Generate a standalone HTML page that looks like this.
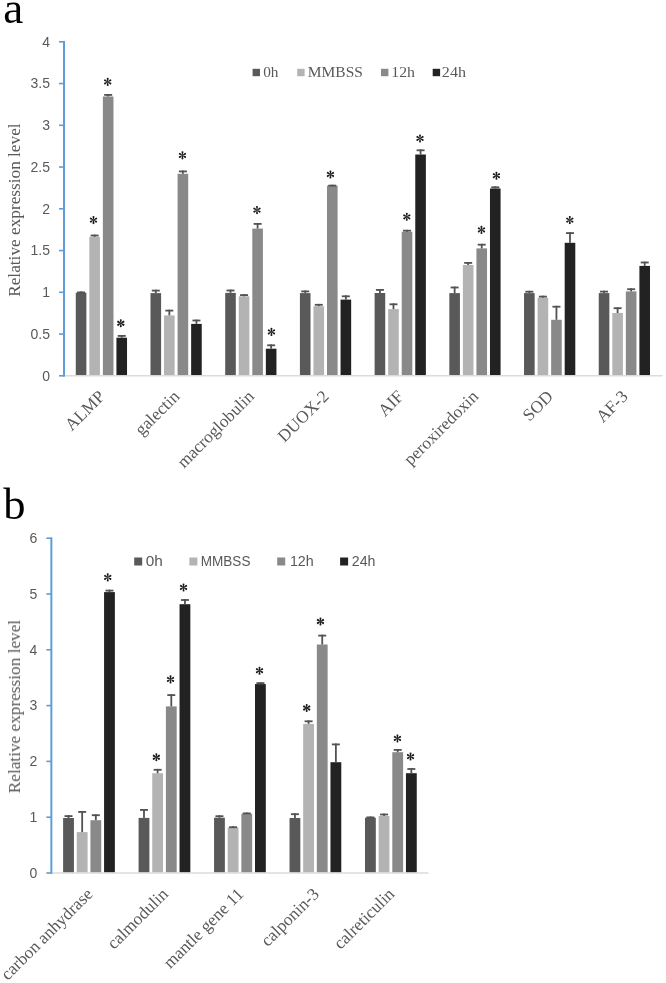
<!DOCTYPE html>
<html><head><meta charset="utf-8"><title>Relative expression level</title>
<style>
html,body{margin:0;padding:0;background:#fff;}
body{width:666px;height:983px;overflow:hidden;font-family:"Liberation Serif", serif;}
svg{display:block;filter:blur(0.35px);}
</style></head>
<body>
<svg width="666" height="983" viewBox="0 0 666 983">
<rect x="0" y="0" width="666" height="983" fill="#fff"/>
<rect x="75.78" y="292.80" width="10.60" height="82.50" fill="#595959"/>
<rect x="80.18" y="291.50" width="1.80" height="1.30" fill="#525252"/>
<rect x="77.08" y="291.50" width="8.00" height="1.80" fill="#525252"/>
<rect x="89.33" y="236.80" width="10.60" height="138.50" fill="#b3b3b3"/>
<rect x="93.73" y="234.60" width="1.80" height="2.20" fill="#525252"/>
<rect x="90.63" y="234.60" width="8.00" height="1.80" fill="#525252"/>
<rect x="102.88" y="96.50" width="10.60" height="278.80" fill="#898989"/>
<rect x="107.28" y="94.00" width="1.80" height="2.50" fill="#525252"/>
<rect x="104.18" y="94.00" width="8.00" height="1.80" fill="#525252"/>
<rect x="116.43" y="337.70" width="10.60" height="37.60" fill="#222222"/>
<rect x="120.83" y="335.00" width="1.80" height="2.70" fill="#525252"/>
<rect x="117.73" y="335.00" width="8.00" height="1.80" fill="#525252"/>
<g transform="translate(93.48,220.07)" fill="#1a1a1a"><path d="M-0.22,0 L-0.88,-2.75 A0.95,0.95 0 1,1 0.88,-2.75 L0.22,0 Z" transform="rotate(0)"/><path d="M-0.22,0 L-0.88,-2.75 A0.95,0.95 0 1,1 0.88,-2.75 L0.22,0 Z" transform="rotate(60)"/><path d="M-0.22,0 L-0.88,-2.75 A0.95,0.95 0 1,1 0.88,-2.75 L0.22,0 Z" transform="rotate(120)"/><path d="M-0.22,0 L-0.88,-2.75 A0.95,0.95 0 1,1 0.88,-2.75 L0.22,0 Z" transform="rotate(180)"/><path d="M-0.22,0 L-0.88,-2.75 A0.95,0.95 0 1,1 0.88,-2.75 L0.22,0 Z" transform="rotate(240)"/><path d="M-0.22,0 L-0.88,-2.75 A0.95,0.95 0 1,1 0.88,-2.75 L0.22,0 Z" transform="rotate(300)"/></g>
<g transform="translate(107.70,81.90)" fill="#1a1a1a"><path d="M-0.22,0 L-0.88,-2.75 A0.95,0.95 0 1,1 0.88,-2.75 L0.22,0 Z" transform="rotate(0)"/><path d="M-0.22,0 L-0.88,-2.75 A0.95,0.95 0 1,1 0.88,-2.75 L0.22,0 Z" transform="rotate(60)"/><path d="M-0.22,0 L-0.88,-2.75 A0.95,0.95 0 1,1 0.88,-2.75 L0.22,0 Z" transform="rotate(120)"/><path d="M-0.22,0 L-0.88,-2.75 A0.95,0.95 0 1,1 0.88,-2.75 L0.22,0 Z" transform="rotate(180)"/><path d="M-0.22,0 L-0.88,-2.75 A0.95,0.95 0 1,1 0.88,-2.75 L0.22,0 Z" transform="rotate(240)"/><path d="M-0.22,0 L-0.88,-2.75 A0.95,0.95 0 1,1 0.88,-2.75 L0.22,0 Z" transform="rotate(300)"/></g>
<g transform="translate(120.80,323.25)" fill="#1a1a1a"><path d="M-0.22,0 L-0.88,-2.75 A0.95,0.95 0 1,1 0.88,-2.75 L0.22,0 Z" transform="rotate(0)"/><path d="M-0.22,0 L-0.88,-2.75 A0.95,0.95 0 1,1 0.88,-2.75 L0.22,0 Z" transform="rotate(60)"/><path d="M-0.22,0 L-0.88,-2.75 A0.95,0.95 0 1,1 0.88,-2.75 L0.22,0 Z" transform="rotate(120)"/><path d="M-0.22,0 L-0.88,-2.75 A0.95,0.95 0 1,1 0.88,-2.75 L0.22,0 Z" transform="rotate(180)"/><path d="M-0.22,0 L-0.88,-2.75 A0.95,0.95 0 1,1 0.88,-2.75 L0.22,0 Z" transform="rotate(240)"/><path d="M-0.22,0 L-0.88,-2.75 A0.95,0.95 0 1,1 0.88,-2.75 L0.22,0 Z" transform="rotate(300)"/></g>
<rect x="150.49" y="293.10" width="10.60" height="82.20" fill="#595959"/>
<rect x="154.89" y="289.70" width="1.80" height="3.40" fill="#525252"/>
<rect x="151.79" y="289.70" width="8.00" height="1.80" fill="#525252"/>
<rect x="164.04" y="315.40" width="10.60" height="59.90" fill="#b3b3b3"/>
<rect x="168.44" y="309.70" width="1.80" height="5.70" fill="#525252"/>
<rect x="165.34" y="309.70" width="8.00" height="1.80" fill="#525252"/>
<rect x="177.59" y="173.80" width="10.60" height="201.50" fill="#898989"/>
<rect x="181.99" y="170.50" width="1.80" height="3.30" fill="#525252"/>
<rect x="178.89" y="170.50" width="8.00" height="1.80" fill="#525252"/>
<rect x="191.14" y="323.90" width="10.60" height="51.40" fill="#222222"/>
<rect x="195.54" y="319.60" width="1.80" height="4.30" fill="#525252"/>
<rect x="192.44" y="319.60" width="8.00" height="1.80" fill="#525252"/>
<g transform="translate(182.46,155.35)" fill="#1a1a1a"><path d="M-0.22,0 L-0.88,-2.75 A0.95,0.95 0 1,1 0.88,-2.75 L0.22,0 Z" transform="rotate(0)"/><path d="M-0.22,0 L-0.88,-2.75 A0.95,0.95 0 1,1 0.88,-2.75 L0.22,0 Z" transform="rotate(60)"/><path d="M-0.22,0 L-0.88,-2.75 A0.95,0.95 0 1,1 0.88,-2.75 L0.22,0 Z" transform="rotate(120)"/><path d="M-0.22,0 L-0.88,-2.75 A0.95,0.95 0 1,1 0.88,-2.75 L0.22,0 Z" transform="rotate(180)"/><path d="M-0.22,0 L-0.88,-2.75 A0.95,0.95 0 1,1 0.88,-2.75 L0.22,0 Z" transform="rotate(240)"/><path d="M-0.22,0 L-0.88,-2.75 A0.95,0.95 0 1,1 0.88,-2.75 L0.22,0 Z" transform="rotate(300)"/></g>
<rect x="225.20" y="292.90" width="10.60" height="82.40" fill="#595959"/>
<rect x="229.60" y="289.60" width="1.80" height="3.30" fill="#525252"/>
<rect x="226.50" y="289.60" width="8.00" height="1.80" fill="#525252"/>
<rect x="238.75" y="296.30" width="10.60" height="79.00" fill="#b3b3b3"/>
<rect x="243.15" y="294.20" width="1.80" height="2.10" fill="#525252"/>
<rect x="240.05" y="294.20" width="8.00" height="1.80" fill="#525252"/>
<rect x="252.30" y="228.60" width="10.60" height="146.70" fill="#898989"/>
<rect x="256.70" y="223.00" width="1.80" height="5.60" fill="#525252"/>
<rect x="253.60" y="223.00" width="8.00" height="1.80" fill="#525252"/>
<rect x="265.85" y="348.70" width="10.60" height="26.60" fill="#222222"/>
<rect x="270.25" y="344.40" width="1.80" height="4.30" fill="#525252"/>
<rect x="267.15" y="344.40" width="8.00" height="1.80" fill="#525252"/>
<g transform="translate(257.00,210.07)" fill="#1a1a1a"><path d="M-0.22,0 L-0.88,-2.75 A0.95,0.95 0 1,1 0.88,-2.75 L0.22,0 Z" transform="rotate(0)"/><path d="M-0.22,0 L-0.88,-2.75 A0.95,0.95 0 1,1 0.88,-2.75 L0.22,0 Z" transform="rotate(60)"/><path d="M-0.22,0 L-0.88,-2.75 A0.95,0.95 0 1,1 0.88,-2.75 L0.22,0 Z" transform="rotate(120)"/><path d="M-0.22,0 L-0.88,-2.75 A0.95,0.95 0 1,1 0.88,-2.75 L0.22,0 Z" transform="rotate(180)"/><path d="M-0.22,0 L-0.88,-2.75 A0.95,0.95 0 1,1 0.88,-2.75 L0.22,0 Z" transform="rotate(240)"/><path d="M-0.22,0 L-0.88,-2.75 A0.95,0.95 0 1,1 0.88,-2.75 L0.22,0 Z" transform="rotate(300)"/></g>
<g transform="translate(271.43,331.90)" fill="#1a1a1a"><path d="M-0.22,0 L-0.88,-2.75 A0.95,0.95 0 1,1 0.88,-2.75 L0.22,0 Z" transform="rotate(0)"/><path d="M-0.22,0 L-0.88,-2.75 A0.95,0.95 0 1,1 0.88,-2.75 L0.22,0 Z" transform="rotate(60)"/><path d="M-0.22,0 L-0.88,-2.75 A0.95,0.95 0 1,1 0.88,-2.75 L0.22,0 Z" transform="rotate(120)"/><path d="M-0.22,0 L-0.88,-2.75 A0.95,0.95 0 1,1 0.88,-2.75 L0.22,0 Z" transform="rotate(180)"/><path d="M-0.22,0 L-0.88,-2.75 A0.95,0.95 0 1,1 0.88,-2.75 L0.22,0 Z" transform="rotate(240)"/><path d="M-0.22,0 L-0.88,-2.75 A0.95,0.95 0 1,1 0.88,-2.75 L0.22,0 Z" transform="rotate(300)"/></g>
<rect x="299.91" y="293.10" width="10.60" height="82.20" fill="#595959"/>
<rect x="304.31" y="290.50" width="1.80" height="2.60" fill="#525252"/>
<rect x="301.21" y="290.50" width="8.00" height="1.80" fill="#525252"/>
<rect x="313.46" y="306.20" width="10.60" height="69.10" fill="#b3b3b3"/>
<rect x="317.86" y="303.90" width="1.80" height="2.30" fill="#525252"/>
<rect x="314.76" y="303.90" width="8.00" height="1.80" fill="#525252"/>
<rect x="327.01" y="185.70" width="10.60" height="189.60" fill="#898989"/>
<rect x="331.41" y="184.70" width="1.80" height="1.00" fill="#525252"/>
<rect x="328.31" y="184.70" width="8.00" height="1.80" fill="#525252"/>
<rect x="340.56" y="299.60" width="10.60" height="75.70" fill="#222222"/>
<rect x="344.96" y="295.40" width="1.80" height="4.20" fill="#525252"/>
<rect x="341.86" y="295.40" width="8.00" height="1.80" fill="#525252"/>
<g transform="translate(330.45,174.46)" fill="#1a1a1a"><path d="M-0.22,0 L-0.88,-2.75 A0.95,0.95 0 1,1 0.88,-2.75 L0.22,0 Z" transform="rotate(0)"/><path d="M-0.22,0 L-0.88,-2.75 A0.95,0.95 0 1,1 0.88,-2.75 L0.22,0 Z" transform="rotate(60)"/><path d="M-0.22,0 L-0.88,-2.75 A0.95,0.95 0 1,1 0.88,-2.75 L0.22,0 Z" transform="rotate(120)"/><path d="M-0.22,0 L-0.88,-2.75 A0.95,0.95 0 1,1 0.88,-2.75 L0.22,0 Z" transform="rotate(180)"/><path d="M-0.22,0 L-0.88,-2.75 A0.95,0.95 0 1,1 0.88,-2.75 L0.22,0 Z" transform="rotate(240)"/><path d="M-0.22,0 L-0.88,-2.75 A0.95,0.95 0 1,1 0.88,-2.75 L0.22,0 Z" transform="rotate(300)"/></g>
<rect x="374.62" y="293.00" width="10.60" height="82.30" fill="#595959"/>
<rect x="379.02" y="289.00" width="1.80" height="4.00" fill="#525252"/>
<rect x="375.92" y="289.00" width="8.00" height="1.80" fill="#525252"/>
<rect x="388.17" y="309.10" width="10.60" height="66.20" fill="#b3b3b3"/>
<rect x="392.57" y="303.40" width="1.80" height="5.70" fill="#525252"/>
<rect x="389.47" y="303.40" width="8.00" height="1.80" fill="#525252"/>
<rect x="401.72" y="231.80" width="10.60" height="143.50" fill="#898989"/>
<rect x="406.12" y="229.80" width="1.80" height="2.00" fill="#525252"/>
<rect x="403.02" y="229.80" width="8.00" height="1.80" fill="#525252"/>
<rect x="415.27" y="154.50" width="10.60" height="220.80" fill="#222222"/>
<rect x="419.67" y="149.40" width="1.80" height="5.10" fill="#525252"/>
<rect x="416.57" y="149.40" width="8.00" height="1.80" fill="#525252"/>
<g transform="translate(406.80,216.80)" fill="#1a1a1a"><path d="M-0.22,0 L-0.88,-2.75 A0.95,0.95 0 1,1 0.88,-2.75 L0.22,0 Z" transform="rotate(0)"/><path d="M-0.22,0 L-0.88,-2.75 A0.95,0.95 0 1,1 0.88,-2.75 L0.22,0 Z" transform="rotate(60)"/><path d="M-0.22,0 L-0.88,-2.75 A0.95,0.95 0 1,1 0.88,-2.75 L0.22,0 Z" transform="rotate(120)"/><path d="M-0.22,0 L-0.88,-2.75 A0.95,0.95 0 1,1 0.88,-2.75 L0.22,0 Z" transform="rotate(180)"/><path d="M-0.22,0 L-0.88,-2.75 A0.95,0.95 0 1,1 0.88,-2.75 L0.22,0 Z" transform="rotate(240)"/><path d="M-0.22,0 L-0.88,-2.75 A0.95,0.95 0 1,1 0.88,-2.75 L0.22,0 Z" transform="rotate(300)"/></g>
<g transform="translate(420.00,138.45)" fill="#1a1a1a"><path d="M-0.22,0 L-0.88,-2.75 A0.95,0.95 0 1,1 0.88,-2.75 L0.22,0 Z" transform="rotate(0)"/><path d="M-0.22,0 L-0.88,-2.75 A0.95,0.95 0 1,1 0.88,-2.75 L0.22,0 Z" transform="rotate(60)"/><path d="M-0.22,0 L-0.88,-2.75 A0.95,0.95 0 1,1 0.88,-2.75 L0.22,0 Z" transform="rotate(120)"/><path d="M-0.22,0 L-0.88,-2.75 A0.95,0.95 0 1,1 0.88,-2.75 L0.22,0 Z" transform="rotate(180)"/><path d="M-0.22,0 L-0.88,-2.75 A0.95,0.95 0 1,1 0.88,-2.75 L0.22,0 Z" transform="rotate(240)"/><path d="M-0.22,0 L-0.88,-2.75 A0.95,0.95 0 1,1 0.88,-2.75 L0.22,0 Z" transform="rotate(300)"/></g>
<rect x="449.33" y="293.10" width="10.60" height="82.20" fill="#595959"/>
<rect x="453.73" y="286.60" width="1.80" height="6.50" fill="#525252"/>
<rect x="450.63" y="286.60" width="8.00" height="1.80" fill="#525252"/>
<rect x="462.88" y="265.00" width="10.60" height="110.30" fill="#b3b3b3"/>
<rect x="467.28" y="262.00" width="1.80" height="3.00" fill="#525252"/>
<rect x="464.18" y="262.00" width="8.00" height="1.80" fill="#525252"/>
<rect x="476.43" y="248.40" width="10.60" height="126.90" fill="#898989"/>
<rect x="480.83" y="243.80" width="1.80" height="4.60" fill="#525252"/>
<rect x="477.73" y="243.80" width="8.00" height="1.80" fill="#525252"/>
<rect x="489.98" y="188.50" width="10.60" height="186.80" fill="#222222"/>
<rect x="494.38" y="186.40" width="1.80" height="2.10" fill="#525252"/>
<rect x="491.28" y="186.40" width="8.00" height="1.80" fill="#525252"/>
<g transform="translate(481.46,229.90)" fill="#1a1a1a"><path d="M-0.22,0 L-0.88,-2.75 A0.95,0.95 0 1,1 0.88,-2.75 L0.22,0 Z" transform="rotate(0)"/><path d="M-0.22,0 L-0.88,-2.75 A0.95,0.95 0 1,1 0.88,-2.75 L0.22,0 Z" transform="rotate(60)"/><path d="M-0.22,0 L-0.88,-2.75 A0.95,0.95 0 1,1 0.88,-2.75 L0.22,0 Z" transform="rotate(120)"/><path d="M-0.22,0 L-0.88,-2.75 A0.95,0.95 0 1,1 0.88,-2.75 L0.22,0 Z" transform="rotate(180)"/><path d="M-0.22,0 L-0.88,-2.75 A0.95,0.95 0 1,1 0.88,-2.75 L0.22,0 Z" transform="rotate(240)"/><path d="M-0.22,0 L-0.88,-2.75 A0.95,0.95 0 1,1 0.88,-2.75 L0.22,0 Z" transform="rotate(300)"/></g>
<g transform="translate(496.43,175.70)" fill="#1a1a1a"><path d="M-0.22,0 L-0.88,-2.75 A0.95,0.95 0 1,1 0.88,-2.75 L0.22,0 Z" transform="rotate(0)"/><path d="M-0.22,0 L-0.88,-2.75 A0.95,0.95 0 1,1 0.88,-2.75 L0.22,0 Z" transform="rotate(60)"/><path d="M-0.22,0 L-0.88,-2.75 A0.95,0.95 0 1,1 0.88,-2.75 L0.22,0 Z" transform="rotate(120)"/><path d="M-0.22,0 L-0.88,-2.75 A0.95,0.95 0 1,1 0.88,-2.75 L0.22,0 Z" transform="rotate(180)"/><path d="M-0.22,0 L-0.88,-2.75 A0.95,0.95 0 1,1 0.88,-2.75 L0.22,0 Z" transform="rotate(240)"/><path d="M-0.22,0 L-0.88,-2.75 A0.95,0.95 0 1,1 0.88,-2.75 L0.22,0 Z" transform="rotate(300)"/></g>
<rect x="524.04" y="293.10" width="10.60" height="82.20" fill="#595959"/>
<rect x="528.44" y="290.80" width="1.80" height="2.30" fill="#525252"/>
<rect x="525.34" y="290.80" width="8.00" height="1.80" fill="#525252"/>
<rect x="537.59" y="297.70" width="10.60" height="77.60" fill="#b3b3b3"/>
<rect x="541.99" y="295.70" width="1.80" height="2.00" fill="#525252"/>
<rect x="538.89" y="295.70" width="8.00" height="1.80" fill="#525252"/>
<rect x="551.14" y="319.80" width="10.60" height="55.50" fill="#898989"/>
<rect x="555.54" y="305.80" width="1.80" height="14.00" fill="#525252"/>
<rect x="552.44" y="305.80" width="8.00" height="1.80" fill="#525252"/>
<rect x="564.69" y="242.80" width="10.60" height="132.50" fill="#222222"/>
<rect x="569.09" y="232.20" width="1.80" height="10.60" fill="#525252"/>
<rect x="565.99" y="232.20" width="8.00" height="1.80" fill="#525252"/>
<g transform="translate(569.80,220.07)" fill="#1a1a1a"><path d="M-0.22,0 L-0.88,-2.75 A0.95,0.95 0 1,1 0.88,-2.75 L0.22,0 Z" transform="rotate(0)"/><path d="M-0.22,0 L-0.88,-2.75 A0.95,0.95 0 1,1 0.88,-2.75 L0.22,0 Z" transform="rotate(60)"/><path d="M-0.22,0 L-0.88,-2.75 A0.95,0.95 0 1,1 0.88,-2.75 L0.22,0 Z" transform="rotate(120)"/><path d="M-0.22,0 L-0.88,-2.75 A0.95,0.95 0 1,1 0.88,-2.75 L0.22,0 Z" transform="rotate(180)"/><path d="M-0.22,0 L-0.88,-2.75 A0.95,0.95 0 1,1 0.88,-2.75 L0.22,0 Z" transform="rotate(240)"/><path d="M-0.22,0 L-0.88,-2.75 A0.95,0.95 0 1,1 0.88,-2.75 L0.22,0 Z" transform="rotate(300)"/></g>
<rect x="598.75" y="293.10" width="10.60" height="82.20" fill="#595959"/>
<rect x="603.15" y="290.70" width="1.80" height="2.40" fill="#525252"/>
<rect x="600.05" y="290.70" width="8.00" height="1.80" fill="#525252"/>
<rect x="612.30" y="313.00" width="10.60" height="62.30" fill="#b3b3b3"/>
<rect x="616.70" y="307.30" width="1.80" height="5.70" fill="#525252"/>
<rect x="613.60" y="307.30" width="8.00" height="1.80" fill="#525252"/>
<rect x="625.85" y="291.40" width="10.60" height="83.90" fill="#898989"/>
<rect x="630.25" y="288.30" width="1.80" height="3.10" fill="#525252"/>
<rect x="627.15" y="288.30" width="8.00" height="1.80" fill="#525252"/>
<rect x="639.40" y="265.90" width="10.60" height="109.40" fill="#222222"/>
<rect x="643.80" y="261.60" width="1.80" height="4.30" fill="#525252"/>
<rect x="640.70" y="261.60" width="8.00" height="1.80" fill="#525252"/>
<rect x="64.00" y="375.10" width="598.50" height="1.40" fill="#d9d9d9"/>
<rect x="63.00" y="40.90" width="2.00" height="335.70" fill="#5f9dd6"/>
<rect x="59.00" y="375.00" width="5.00" height="1.60" fill="#5f9dd6"/>
<rect x="59.00" y="333.25" width="5.00" height="1.60" fill="#5f9dd6"/>
<rect x="59.00" y="291.50" width="5.00" height="1.60" fill="#5f9dd6"/>
<rect x="59.00" y="249.75" width="5.00" height="1.60" fill="#5f9dd6"/>
<rect x="59.00" y="208.00" width="5.00" height="1.60" fill="#5f9dd6"/>
<rect x="59.00" y="166.25" width="5.00" height="1.60" fill="#5f9dd6"/>
<rect x="59.00" y="124.50" width="5.00" height="1.60" fill="#5f9dd6"/>
<rect x="59.00" y="82.75" width="5.00" height="1.60" fill="#5f9dd6"/>
<rect x="59.00" y="41.00" width="5.00" height="1.60" fill="#5f9dd6"/>
<rect x="252.60" y="68.80" width="7.40" height="7.40" fill="#595959"/>
<rect x="297.20" y="68.80" width="7.40" height="7.40" fill="#b3b3b3"/>
<rect x="381.00" y="68.80" width="7.40" height="7.40" fill="#898989"/>
<rect x="432.70" y="68.80" width="7.40" height="7.40" fill="#222222"/>
<rect x="63.12" y="818.00" width="10.80" height="54.50" fill="#595959"/>
<rect x="67.62" y="815.20" width="1.80" height="2.80" fill="#525252"/>
<rect x="64.52" y="815.20" width="8.00" height="1.80" fill="#525252"/>
<rect x="76.77" y="832.10" width="10.80" height="40.40" fill="#b3b3b3"/>
<rect x="81.27" y="811.00" width="1.80" height="21.10" fill="#525252"/>
<rect x="78.17" y="811.00" width="8.00" height="1.80" fill="#525252"/>
<rect x="90.42" y="820.20" width="10.80" height="52.30" fill="#898989"/>
<rect x="94.92" y="814.30" width="1.80" height="5.90" fill="#525252"/>
<rect x="91.82" y="814.30" width="8.00" height="1.80" fill="#525252"/>
<rect x="104.07" y="592.10" width="10.80" height="280.40" fill="#222222"/>
<rect x="108.57" y="589.70" width="1.80" height="2.40" fill="#525252"/>
<rect x="105.47" y="589.70" width="8.00" height="1.80" fill="#525252"/>
<g transform="translate(107.75,577.40)" fill="#1a1a1a"><path d="M-0.22,0 L-0.88,-2.75 A0.95,0.95 0 1,1 0.88,-2.75 L0.22,0 Z" transform="rotate(0)"/><path d="M-0.22,0 L-0.88,-2.75 A0.95,0.95 0 1,1 0.88,-2.75 L0.22,0 Z" transform="rotate(60)"/><path d="M-0.22,0 L-0.88,-2.75 A0.95,0.95 0 1,1 0.88,-2.75 L0.22,0 Z" transform="rotate(120)"/><path d="M-0.22,0 L-0.88,-2.75 A0.95,0.95 0 1,1 0.88,-2.75 L0.22,0 Z" transform="rotate(180)"/><path d="M-0.22,0 L-0.88,-2.75 A0.95,0.95 0 1,1 0.88,-2.75 L0.22,0 Z" transform="rotate(240)"/><path d="M-0.22,0 L-0.88,-2.75 A0.95,0.95 0 1,1 0.88,-2.75 L0.22,0 Z" transform="rotate(300)"/></g>
<rect x="138.59" y="817.90" width="10.80" height="54.60" fill="#595959"/>
<rect x="143.09" y="809.00" width="1.80" height="8.90" fill="#525252"/>
<rect x="139.99" y="809.00" width="8.00" height="1.80" fill="#525252"/>
<rect x="152.24" y="773.20" width="10.80" height="99.30" fill="#b3b3b3"/>
<rect x="156.74" y="768.90" width="1.80" height="4.30" fill="#525252"/>
<rect x="153.64" y="768.90" width="8.00" height="1.80" fill="#525252"/>
<rect x="165.89" y="706.40" width="10.80" height="166.10" fill="#898989"/>
<rect x="170.39" y="694.20" width="1.80" height="12.20" fill="#525252"/>
<rect x="167.29" y="694.20" width="8.00" height="1.80" fill="#525252"/>
<rect x="179.54" y="604.20" width="10.80" height="268.30" fill="#222222"/>
<rect x="184.04" y="599.10" width="1.80" height="5.10" fill="#525252"/>
<rect x="180.94" y="599.10" width="8.00" height="1.80" fill="#525252"/>
<g transform="translate(156.35,757.24)" fill="#1a1a1a"><path d="M-0.22,0 L-0.88,-2.75 A0.95,0.95 0 1,1 0.88,-2.75 L0.22,0 Z" transform="rotate(0)"/><path d="M-0.22,0 L-0.88,-2.75 A0.95,0.95 0 1,1 0.88,-2.75 L0.22,0 Z" transform="rotate(60)"/><path d="M-0.22,0 L-0.88,-2.75 A0.95,0.95 0 1,1 0.88,-2.75 L0.22,0 Z" transform="rotate(120)"/><path d="M-0.22,0 L-0.88,-2.75 A0.95,0.95 0 1,1 0.88,-2.75 L0.22,0 Z" transform="rotate(180)"/><path d="M-0.22,0 L-0.88,-2.75 A0.95,0.95 0 1,1 0.88,-2.75 L0.22,0 Z" transform="rotate(240)"/><path d="M-0.22,0 L-0.88,-2.75 A0.95,0.95 0 1,1 0.88,-2.75 L0.22,0 Z" transform="rotate(300)"/></g>
<g transform="translate(170.53,679.43)" fill="#1a1a1a"><path d="M-0.22,0 L-0.88,-2.75 A0.95,0.95 0 1,1 0.88,-2.75 L0.22,0 Z" transform="rotate(0)"/><path d="M-0.22,0 L-0.88,-2.75 A0.95,0.95 0 1,1 0.88,-2.75 L0.22,0 Z" transform="rotate(60)"/><path d="M-0.22,0 L-0.88,-2.75 A0.95,0.95 0 1,1 0.88,-2.75 L0.22,0 Z" transform="rotate(120)"/><path d="M-0.22,0 L-0.88,-2.75 A0.95,0.95 0 1,1 0.88,-2.75 L0.22,0 Z" transform="rotate(180)"/><path d="M-0.22,0 L-0.88,-2.75 A0.95,0.95 0 1,1 0.88,-2.75 L0.22,0 Z" transform="rotate(240)"/><path d="M-0.22,0 L-0.88,-2.75 A0.95,0.95 0 1,1 0.88,-2.75 L0.22,0 Z" transform="rotate(300)"/></g>
<g transform="translate(183.53,587.46)" fill="#1a1a1a"><path d="M-0.22,0 L-0.88,-2.75 A0.95,0.95 0 1,1 0.88,-2.75 L0.22,0 Z" transform="rotate(0)"/><path d="M-0.22,0 L-0.88,-2.75 A0.95,0.95 0 1,1 0.88,-2.75 L0.22,0 Z" transform="rotate(60)"/><path d="M-0.22,0 L-0.88,-2.75 A0.95,0.95 0 1,1 0.88,-2.75 L0.22,0 Z" transform="rotate(120)"/><path d="M-0.22,0 L-0.88,-2.75 A0.95,0.95 0 1,1 0.88,-2.75 L0.22,0 Z" transform="rotate(180)"/><path d="M-0.22,0 L-0.88,-2.75 A0.95,0.95 0 1,1 0.88,-2.75 L0.22,0 Z" transform="rotate(240)"/><path d="M-0.22,0 L-0.88,-2.75 A0.95,0.95 0 1,1 0.88,-2.75 L0.22,0 Z" transform="rotate(300)"/></g>
<rect x="214.06" y="817.70" width="10.80" height="54.80" fill="#595959"/>
<rect x="218.56" y="815.30" width="1.80" height="2.40" fill="#525252"/>
<rect x="215.46" y="815.30" width="8.00" height="1.80" fill="#525252"/>
<rect x="227.71" y="827.50" width="10.80" height="45.00" fill="#b3b3b3"/>
<rect x="232.21" y="826.30" width="1.80" height="1.20" fill="#525252"/>
<rect x="229.11" y="826.30" width="8.00" height="1.80" fill="#525252"/>
<rect x="241.36" y="813.80" width="10.80" height="58.70" fill="#898989"/>
<rect x="245.86" y="812.50" width="1.80" height="1.30" fill="#525252"/>
<rect x="242.76" y="812.50" width="8.00" height="1.80" fill="#525252"/>
<rect x="255.01" y="684.10" width="10.80" height="188.40" fill="#222222"/>
<rect x="259.51" y="682.20" width="1.80" height="1.90" fill="#525252"/>
<rect x="256.41" y="682.20" width="8.00" height="1.80" fill="#525252"/>
<g transform="translate(259.50,670.70)" fill="#1a1a1a"><path d="M-0.22,0 L-0.88,-2.75 A0.95,0.95 0 1,1 0.88,-2.75 L0.22,0 Z" transform="rotate(0)"/><path d="M-0.22,0 L-0.88,-2.75 A0.95,0.95 0 1,1 0.88,-2.75 L0.22,0 Z" transform="rotate(60)"/><path d="M-0.22,0 L-0.88,-2.75 A0.95,0.95 0 1,1 0.88,-2.75 L0.22,0 Z" transform="rotate(120)"/><path d="M-0.22,0 L-0.88,-2.75 A0.95,0.95 0 1,1 0.88,-2.75 L0.22,0 Z" transform="rotate(180)"/><path d="M-0.22,0 L-0.88,-2.75 A0.95,0.95 0 1,1 0.88,-2.75 L0.22,0 Z" transform="rotate(240)"/><path d="M-0.22,0 L-0.88,-2.75 A0.95,0.95 0 1,1 0.88,-2.75 L0.22,0 Z" transform="rotate(300)"/></g>
<rect x="289.53" y="818.00" width="10.80" height="54.50" fill="#595959"/>
<rect x="294.03" y="813.30" width="1.80" height="4.70" fill="#525252"/>
<rect x="290.93" y="813.30" width="8.00" height="1.80" fill="#525252"/>
<rect x="303.18" y="723.90" width="10.80" height="148.60" fill="#b3b3b3"/>
<rect x="307.68" y="720.40" width="1.80" height="3.50" fill="#525252"/>
<rect x="304.58" y="720.40" width="8.00" height="1.80" fill="#525252"/>
<rect x="316.83" y="644.50" width="10.80" height="228.00" fill="#898989"/>
<rect x="321.33" y="634.70" width="1.80" height="9.80" fill="#525252"/>
<rect x="318.23" y="634.70" width="8.00" height="1.80" fill="#525252"/>
<rect x="330.48" y="762.20" width="10.80" height="110.30" fill="#222222"/>
<rect x="334.98" y="743.50" width="1.80" height="18.70" fill="#525252"/>
<rect x="331.88" y="743.50" width="8.00" height="1.80" fill="#525252"/>
<g transform="translate(306.70,708.00)" fill="#1a1a1a"><path d="M-0.22,0 L-0.88,-2.75 A0.95,0.95 0 1,1 0.88,-2.75 L0.22,0 Z" transform="rotate(0)"/><path d="M-0.22,0 L-0.88,-2.75 A0.95,0.95 0 1,1 0.88,-2.75 L0.22,0 Z" transform="rotate(60)"/><path d="M-0.22,0 L-0.88,-2.75 A0.95,0.95 0 1,1 0.88,-2.75 L0.22,0 Z" transform="rotate(120)"/><path d="M-0.22,0 L-0.88,-2.75 A0.95,0.95 0 1,1 0.88,-2.75 L0.22,0 Z" transform="rotate(180)"/><path d="M-0.22,0 L-0.88,-2.75 A0.95,0.95 0 1,1 0.88,-2.75 L0.22,0 Z" transform="rotate(240)"/><path d="M-0.22,0 L-0.88,-2.75 A0.95,0.95 0 1,1 0.88,-2.75 L0.22,0 Z" transform="rotate(300)"/></g>
<g transform="translate(320.45,621.50)" fill="#1a1a1a"><path d="M-0.22,0 L-0.88,-2.75 A0.95,0.95 0 1,1 0.88,-2.75 L0.22,0 Z" transform="rotate(0)"/><path d="M-0.22,0 L-0.88,-2.75 A0.95,0.95 0 1,1 0.88,-2.75 L0.22,0 Z" transform="rotate(60)"/><path d="M-0.22,0 L-0.88,-2.75 A0.95,0.95 0 1,1 0.88,-2.75 L0.22,0 Z" transform="rotate(120)"/><path d="M-0.22,0 L-0.88,-2.75 A0.95,0.95 0 1,1 0.88,-2.75 L0.22,0 Z" transform="rotate(180)"/><path d="M-0.22,0 L-0.88,-2.75 A0.95,0.95 0 1,1 0.88,-2.75 L0.22,0 Z" transform="rotate(240)"/><path d="M-0.22,0 L-0.88,-2.75 A0.95,0.95 0 1,1 0.88,-2.75 L0.22,0 Z" transform="rotate(300)"/></g>
<rect x="365.00" y="817.70" width="10.80" height="54.80" fill="#595959"/>
<rect x="369.50" y="816.50" width="1.80" height="1.20" fill="#525252"/>
<rect x="366.40" y="816.50" width="8.00" height="1.80" fill="#525252"/>
<rect x="378.65" y="816.00" width="10.80" height="56.50" fill="#b3b3b3"/>
<rect x="383.15" y="813.60" width="1.80" height="2.40" fill="#525252"/>
<rect x="380.05" y="813.60" width="8.00" height="1.80" fill="#525252"/>
<rect x="392.30" y="752.20" width="10.80" height="120.30" fill="#898989"/>
<rect x="396.80" y="749.00" width="1.80" height="3.20" fill="#525252"/>
<rect x="393.70" y="749.00" width="8.00" height="1.80" fill="#525252"/>
<rect x="405.95" y="773.20" width="10.80" height="99.30" fill="#222222"/>
<rect x="410.45" y="768.10" width="1.80" height="5.10" fill="#525252"/>
<rect x="407.35" y="768.10" width="8.00" height="1.80" fill="#525252"/>
<g transform="translate(397.46,738.46)" fill="#1a1a1a"><path d="M-0.22,0 L-0.88,-2.75 A0.95,0.95 0 1,1 0.88,-2.75 L0.22,0 Z" transform="rotate(0)"/><path d="M-0.22,0 L-0.88,-2.75 A0.95,0.95 0 1,1 0.88,-2.75 L0.22,0 Z" transform="rotate(60)"/><path d="M-0.22,0 L-0.88,-2.75 A0.95,0.95 0 1,1 0.88,-2.75 L0.22,0 Z" transform="rotate(120)"/><path d="M-0.22,0 L-0.88,-2.75 A0.95,0.95 0 1,1 0.88,-2.75 L0.22,0 Z" transform="rotate(180)"/><path d="M-0.22,0 L-0.88,-2.75 A0.95,0.95 0 1,1 0.88,-2.75 L0.22,0 Z" transform="rotate(240)"/><path d="M-0.22,0 L-0.88,-2.75 A0.95,0.95 0 1,1 0.88,-2.75 L0.22,0 Z" transform="rotate(300)"/></g>
<g transform="translate(410.53,756.53)" fill="#1a1a1a"><path d="M-0.22,0 L-0.88,-2.75 A0.95,0.95 0 1,1 0.88,-2.75 L0.22,0 Z" transform="rotate(0)"/><path d="M-0.22,0 L-0.88,-2.75 A0.95,0.95 0 1,1 0.88,-2.75 L0.22,0 Z" transform="rotate(60)"/><path d="M-0.22,0 L-0.88,-2.75 A0.95,0.95 0 1,1 0.88,-2.75 L0.22,0 Z" transform="rotate(120)"/><path d="M-0.22,0 L-0.88,-2.75 A0.95,0.95 0 1,1 0.88,-2.75 L0.22,0 Z" transform="rotate(180)"/><path d="M-0.22,0 L-0.88,-2.75 A0.95,0.95 0 1,1 0.88,-2.75 L0.22,0 Z" transform="rotate(240)"/><path d="M-0.22,0 L-0.88,-2.75 A0.95,0.95 0 1,1 0.88,-2.75 L0.22,0 Z" transform="rotate(300)"/></g>
<rect x="51.35" y="872.30" width="377.15" height="1.40" fill="#d9d9d9"/>
<rect x="50.35" y="537.40" width="2.00" height="336.40" fill="#5f9dd6"/>
<rect x="46.35" y="872.20" width="5.00" height="1.60" fill="#5f9dd6"/>
<rect x="46.35" y="816.40" width="5.00" height="1.60" fill="#5f9dd6"/>
<rect x="46.35" y="760.60" width="5.00" height="1.60" fill="#5f9dd6"/>
<rect x="46.35" y="704.80" width="5.00" height="1.60" fill="#5f9dd6"/>
<rect x="46.35" y="649.00" width="5.00" height="1.60" fill="#5f9dd6"/>
<rect x="46.35" y="593.20" width="5.00" height="1.60" fill="#5f9dd6"/>
<rect x="46.35" y="537.40" width="5.00" height="1.60" fill="#5f9dd6"/>
<rect x="134.20" y="557.50" width="8.00" height="8.00" fill="#595959"/>
<rect x="189.40" y="557.50" width="8.00" height="8.00" fill="#b3b3b3"/>
<rect x="277.20" y="557.50" width="8.00" height="8.00" fill="#898989"/>
<rect x="340.10" y="557.50" width="8.00" height="8.00" fill="#222222"/>
<g style="filter:grayscale(1)">
<text x="50.00" y="380.60" font-size="14" font-family="'Liberation Sans', sans-serif" fill="#595959" text-anchor="end" >0</text>
<text x="50.00" y="338.85" font-size="14" font-family="'Liberation Sans', sans-serif" fill="#595959" text-anchor="end" >0.5</text>
<text x="50.00" y="297.10" font-size="14" font-family="'Liberation Sans', sans-serif" fill="#595959" text-anchor="end" >1</text>
<text x="50.00" y="255.35" font-size="14" font-family="'Liberation Sans', sans-serif" fill="#595959" text-anchor="end" >1.5</text>
<text x="50.00" y="213.60" font-size="14" font-family="'Liberation Sans', sans-serif" fill="#595959" text-anchor="end" >2</text>
<text x="50.00" y="171.85" font-size="14" font-family="'Liberation Sans', sans-serif" fill="#595959" text-anchor="end" >2.5</text>
<text x="50.00" y="130.10" font-size="14" font-family="'Liberation Sans', sans-serif" fill="#595959" text-anchor="end" >3</text>
<text x="50.00" y="88.35" font-size="14" font-family="'Liberation Sans', sans-serif" fill="#595959" text-anchor="end" >3.5</text>
<text x="50.00" y="46.60" font-size="14" font-family="'Liberation Sans', sans-serif" fill="#595959" text-anchor="end" >4</text>
<text x="0" y="0" font-size="17.25" font-family="'Liberation Serif', serif" fill="#595959" transform="translate(20.0,296.8) rotate(-90)">Relative expression level</text>
<text x="0" y="0" font-size="17.3" font-family="'Liberation Serif', serif" fill="#595959" text-anchor="end" transform="translate(105.81,397.50) rotate(-45)">ALMP</text>
<text x="0" y="0" font-size="17.3" font-family="'Liberation Serif', serif" fill="#595959" text-anchor="end" transform="translate(180.51,397.50) rotate(-45)">galectin</text>
<text x="0" y="0" font-size="17.3" font-family="'Liberation Serif', serif" fill="#595959" text-anchor="end" transform="translate(255.22,397.50) rotate(-45)">macroglobulin</text>
<text x="0" y="0" font-size="17.3" font-family="'Liberation Serif', serif" fill="#595959" text-anchor="end" transform="translate(329.94,397.50) rotate(-45)">DUOX-2</text>
<text x="0" y="0" font-size="17.3" font-family="'Liberation Serif', serif" fill="#595959" text-anchor="end" transform="translate(404.64,397.50) rotate(-45)">AIF</text>
<text x="0" y="0" font-size="17.3" font-family="'Liberation Serif', serif" fill="#595959" text-anchor="end" transform="translate(479.35,397.50) rotate(-45)">peroxiredoxin</text>
<text x="0" y="0" font-size="17.3" font-family="'Liberation Serif', serif" fill="#595959" text-anchor="end" transform="translate(554.06,397.50) rotate(-45)">SOD</text>
<text x="0" y="0" font-size="17.3" font-family="'Liberation Serif', serif" fill="#595959" text-anchor="end" transform="translate(628.77,397.50) rotate(-45)">AF-3</text>
<text x="263.22" y="77.40" font-size="15.5" font-family="'Liberation Serif', serif" fill="#595959" text-anchor="start" textLength="15.28" lengthAdjust="spacingAndGlyphs">0h</text>
<text x="307.85" y="77.40" font-size="15.5" font-family="'Liberation Serif', serif" fill="#595959" text-anchor="start" textLength="55.00" lengthAdjust="spacingAndGlyphs">MMBSS</text>
<text x="391.31" y="77.40" font-size="15.5" font-family="'Liberation Serif', serif" fill="#595959" text-anchor="start" textLength="23.70" lengthAdjust="spacingAndGlyphs">12h</text>
<text x="441.89" y="77.40" font-size="15.5" font-family="'Liberation Serif', serif" fill="#595959" text-anchor="start" textLength="24.12" lengthAdjust="spacingAndGlyphs">24h</text>
<text x="37.20" y="877.80" font-size="14" font-family="'Liberation Sans', sans-serif" fill="#595959" text-anchor="end" >0</text>
<text x="37.20" y="822.00" font-size="14" font-family="'Liberation Sans', sans-serif" fill="#595959" text-anchor="end" >1</text>
<text x="37.20" y="766.20" font-size="14" font-family="'Liberation Sans', sans-serif" fill="#595959" text-anchor="end" >2</text>
<text x="37.20" y="710.40" font-size="14" font-family="'Liberation Sans', sans-serif" fill="#595959" text-anchor="end" >3</text>
<text x="37.20" y="654.60" font-size="14" font-family="'Liberation Sans', sans-serif" fill="#595959" text-anchor="end" >4</text>
<text x="37.20" y="598.80" font-size="14" font-family="'Liberation Sans', sans-serif" fill="#595959" text-anchor="end" >5</text>
<text x="37.20" y="543.00" font-size="14" font-family="'Liberation Sans', sans-serif" fill="#595959" text-anchor="end" >6</text>
<text x="0" y="0" font-size="17.25" font-family="'Liberation Serif', serif" fill="#595959" transform="translate(20.0,793.3) rotate(-90)">Relative expression level</text>
<text x="0" y="0" font-size="17.3" font-family="'Liberation Serif', serif" fill="#595959" text-anchor="end" transform="translate(93.59,895.10) rotate(-45)">carbon anhydrase</text>
<text x="0" y="0" font-size="17.3" font-family="'Liberation Serif', serif" fill="#595959" text-anchor="end" transform="translate(169.06,895.10) rotate(-45)">calmodulin</text>
<text x="0" y="0" font-size="17.3" font-family="'Liberation Serif', serif" fill="#595959" text-anchor="end" transform="translate(244.53,895.10) rotate(-45)">mantle gene 11</text>
<text x="0" y="0" font-size="17.3" font-family="'Liberation Serif', serif" fill="#595959" text-anchor="end" transform="translate(320.01,895.10) rotate(-45)">calponin-3</text>
<text x="0" y="0" font-size="17.3" font-family="'Liberation Serif', serif" fill="#595959" text-anchor="end" transform="translate(395.48,895.10) rotate(-45)">calreticulin</text>
<text x="145.70" y="565.70" font-size="13.8" font-family="'Liberation Sans', sans-serif" fill="#595959" text-anchor="start" textLength="17.10" lengthAdjust="spacingAndGlyphs">0h</text>
<text x="200.69" y="565.70" font-size="13.8" font-family="'Liberation Sans', sans-serif" fill="#595959" text-anchor="start" textLength="49.74" lengthAdjust="spacingAndGlyphs">MMBSS</text>
<text x="289.91" y="565.70" font-size="13.8" font-family="'Liberation Sans', sans-serif" fill="#595959" text-anchor="start" textLength="23.81" lengthAdjust="spacingAndGlyphs">12h</text>
<text x="351.89" y="565.70" font-size="13.8" font-family="'Liberation Sans', sans-serif" fill="#595959" text-anchor="start" textLength="23.63" lengthAdjust="spacingAndGlyphs">24h</text>
<text x="3.20" y="23.40" font-size="45" font-family="'Liberation Serif', serif" fill="#000" text-anchor="start" >a</text>
<text x="3.20" y="518.80" font-size="44.5" font-family="'Liberation Serif', serif" fill="#000" text-anchor="start" >b</text>
</g>
</svg>
</body></html>
